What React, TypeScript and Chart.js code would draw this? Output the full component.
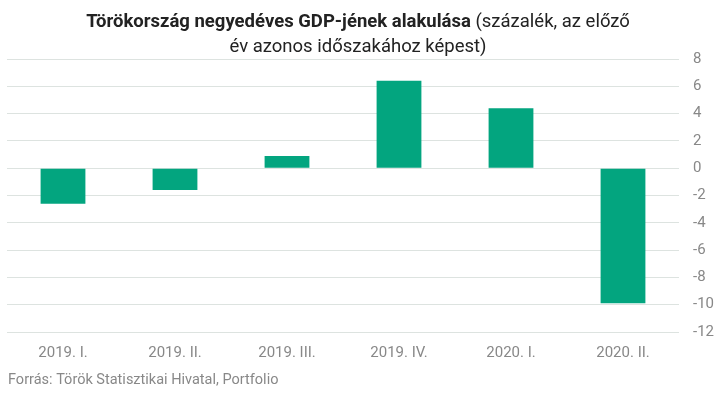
import React, { useEffect, useRef } from "react";
import { Chart, registerables } from "chart.js";

Chart.register(...registerables);

const categories = ["2019. I.", "2019. II.", "2019. III.", "2019. IV.", "2020. I.", "2020. II."];
const gdpValues = [-2.6, -1.6, 0.9, 6.4, 4.4, -9.9];
const titleBold = "Törökország negyedéves GDP-jének alakulása";
const titleRest1 = " (százalék, az előző";
const titleLine2 = "év azonos időszakához képest)";
const sourceText = "Forrás: Török Statisztikai Hivatal, Portfolio";

const FONT = "Roboto, 'Noto Sans', sans-serif";

const textPlugin = {
  id: "textPlugin",
  afterDraw(chart: any) {
    const ctx = chart.ctx as CanvasRenderingContext2D;
    const w = chart.width;
    ctx.save();
    ctx.textBaseline = "middle";
    ctx.fillStyle = "#222222";
    const boldFont = `bold 18.5px ${FONT}`;
    const normFont = `18.5px ${FONT}`;
    ctx.font = boldFont;
    const bw = ctx.measureText(titleBold).width;
    ctx.font = normFont;
    const rw = ctx.measureText(titleRest1).width;
    const x0 = w / 2 - (bw + rw) / 2;
    ctx.textAlign = "left";
    ctx.font = boldFont;
    ctx.fillText(titleBold, x0, 22);
    ctx.font = normFont;
    ctx.fillText(titleRest1, x0 + bw, 22);
    ctx.textAlign = "center";
    ctx.fillText(titleLine2, w / 2, 47);
    ctx.textAlign = "left";
    ctx.fillStyle = "#888888";
    ctx.font = `14.5px ${FONT}`;
    ctx.fillText(sourceText, 8, 380);
    ctx.restore();
  },
};

export default function App() {
  const ref = useRef<HTMLCanvasElement | null>(null);
  useEffect(() => {
    document.body.style.margin = "0";
    if (!ref.current) return;
    const chart = new Chart(ref.current, {
      type: "bar",
      data: {
        labels: categories,
        datasets: [
          {
            data: gdpValues,
            backgroundColor: "#03a57f",
            categoryPercentage: 0.8,
            barPercentage: 0.5,
          },
        ],
      },
      options: {
        animation: false,
        responsive: false,
        maintainAspectRatio: false,
        layout: { padding: { left: 7, top: 59, right: 0, bottom: 23 } },
        plugins: { legend: { display: false }, tooltip: { enabled: false } },
        scales: {
          x: {
            grid: { display: false, drawTicks: false },
            border: { display: false },
            ticks: { color: "#888888", font: { family: FONT, size: 15 }, padding: 12 },
          },
          y: {
            position: "right",
            min: -12,
            max: 8,
            grid: { color: "#dde3e0", lineWidth: 1, drawTicks: false },
            border: { display: false },
            ticks: { stepSize: 2, color: "#888888", font: { family: FONT, size: 15 }, padding: 14 },
            afterFit(axis: any) {
              axis.width = 37;
            },
          },
        },
      },
      plugins: [textPlugin],
    });
    return () => chart.destroy();
  }, []);
  return (
    <div style={{ width: 716, height: 397 }}>
      <canvas ref={ref} width={716} height={397} style={{ display: "block" }} />
    </div>
  );
}
